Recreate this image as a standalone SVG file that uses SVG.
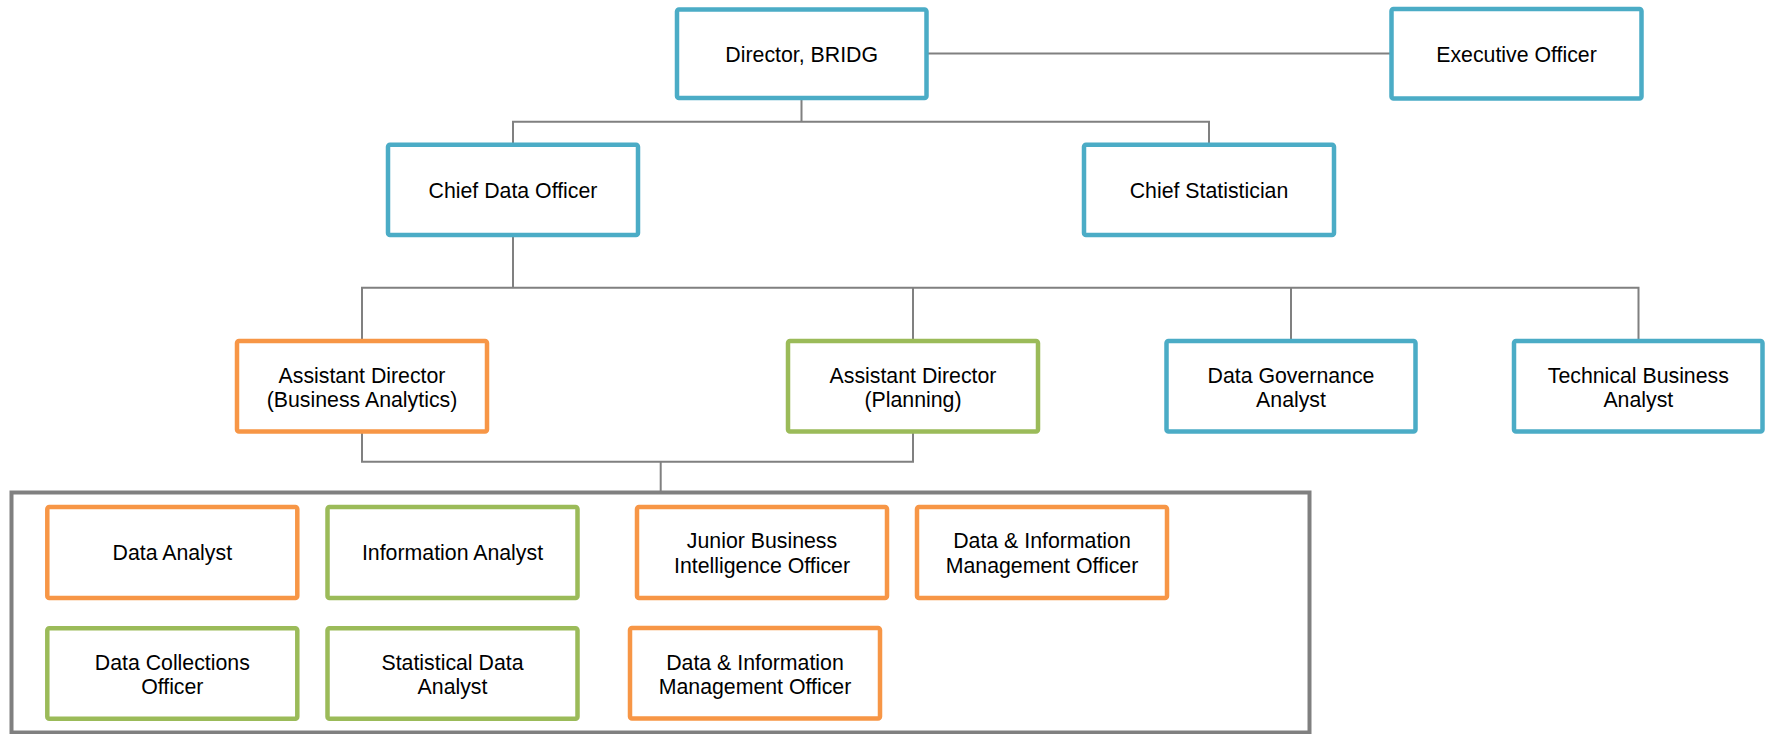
<svg xmlns="http://www.w3.org/2000/svg" width="1766" height="734" viewBox="0 0 1766 734">
<style>
.box{fill:#fff;stroke-width:4.5;}
.blue{stroke:#4BACC6;}
.orange{stroke:#F79646;}
.green{stroke:#9BBB59;}
.conn{fill:none;stroke:#808080;stroke-width:2;}
.container{fill:none;stroke:#808080;stroke-width:4;}
text{font-family:"Liberation Sans",Arial,sans-serif;font-size:21.3px;fill:#000;text-anchor:middle;}
</style>
<rect width="1766" height="734" fill="#fff"/>
<rect id="container" class="container" x="11.5" y="492.5" width="1298" height="240"/>
<g id="connectors">
<path class="conn" d="M926.5,53.5 H1391.5"/>
<path class="conn" d="M801.5,98 V121.7 M513,144.7 V121.7 H1209 V144.7"/>
<path class="conn" d="M513,235 V287.7 M362,341 V287.7 H1638.5 V341 M913,287.7 V341 M1291,287.7 V341"/>
<path class="conn" d="M362,431.5 V461.7 H913 V431.5 M660.7,461.7 V492.5"/>
</g>
<g id="director"><rect class="box blue" x="677" y="9.5" width="249.5" height="88.5" rx="2"/><text x="801.7" y="61.5">Director, BRIDG</text></g>
<g id="executive"><rect class="box blue" x="1391.5" y="9" width="250" height="89.5" rx="2"/><text x="1516.5" y="61.5">Executive Officer</text></g>
<g id="cdo"><rect class="box blue" x="388" y="144.7" width="250" height="90.3" rx="2"/><text x="513" y="197.5">Chief Data Officer</text></g>
<g id="cs"><rect class="box blue" x="1084" y="144.7" width="250" height="90.3" rx="2"/><text x="1209" y="197.5">Chief Statistician</text></g>
<g id="adba"><rect class="box orange" x="237" y="341" width="250" height="90.5" rx="2"/><text x="362" y="382.5">Assistant Director</text><text x="362" y="406.7">(Business Analytics)</text></g>
<g id="adp"><rect class="box green" x="788" y="341" width="250" height="90.5" rx="2"/><text x="913" y="382.5">Assistant Director</text><text x="913" y="406.7">(Planning)</text></g>
<g id="dga"><rect class="box blue" x="1166.5" y="341" width="249" height="90.5" rx="2"/><text x="1291" y="382.5">Data Governance</text><text x="1291" y="406.7">Analyst</text></g>
<g id="tba"><rect class="box blue" x="1514" y="341" width="248.5" height="90.5" rx="2"/><text x="1638.3" y="382.5">Technical Business</text><text x="1638.3" y="406.7">Analyst</text></g>
<g id="da"><rect class="box orange" x="47.3" y="507" width="250" height="91" rx="2"/><text x="172.3" y="560">Data Analyst</text></g>
<g id="ia"><rect class="box green" x="327.5" y="507" width="250" height="91" rx="2"/><text x="452.5" y="560">Information Analyst</text></g>
<g id="jbi"><rect class="box orange" x="637" y="507" width="250" height="91" rx="2"/><text x="762" y="548">Junior Business</text><text x="762" y="572.5">Intelligence Officer</text></g>
<g id="dimo1"><rect class="box orange" x="917" y="507" width="250" height="91" rx="2"/><text x="1042" y="548">Data &amp; Information</text><text x="1042" y="572.5">Management Officer</text></g>
<g id="dc"><rect class="box green" x="47.3" y="628.2" width="250" height="90.6" rx="2"/><text x="172.3" y="669.5">Data Collections</text><text x="172.3" y="694.3">Officer</text></g>
<g id="sda"><rect class="box green" x="327.5" y="628.2" width="250" height="90.6" rx="2"/><text x="452.5" y="669.5">Statistical Data</text><text x="452.5" y="694.3">Analyst</text></g>
<g id="dimo2"><rect class="box orange" x="630" y="628" width="250" height="90.5" rx="2"/><text x="755" y="669.5">Data &amp; Information</text><text x="755" y="694.3">Management Officer</text></g>
</svg>
